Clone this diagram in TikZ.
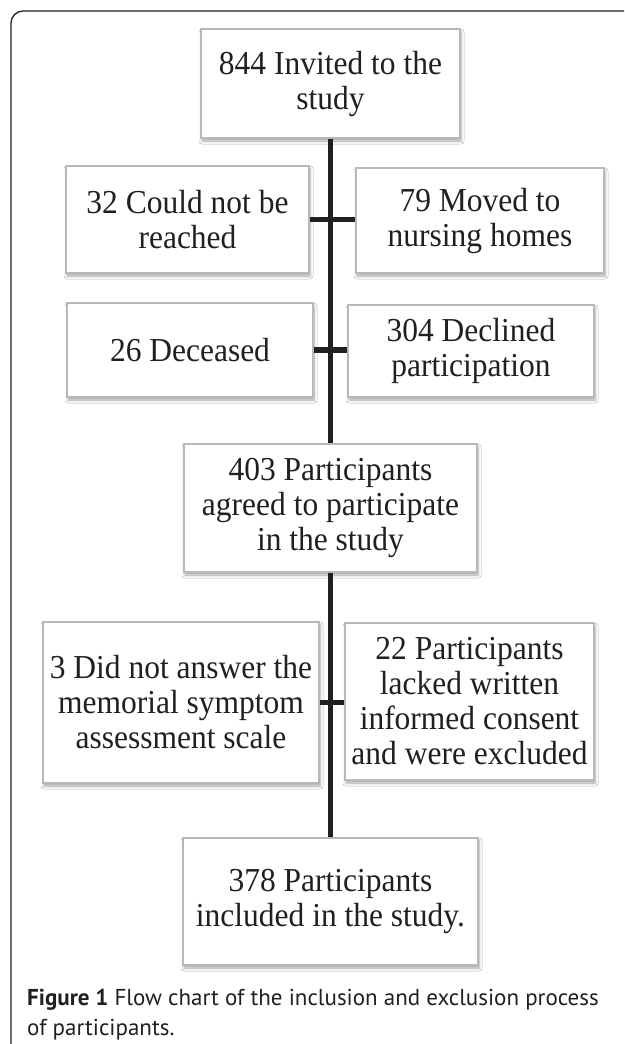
\documentclass[tikz,border=0pt]{standalone}
\usepackage{fontspec}
\setmainfont{Liberation Serif}
\newfontfamily\boxfont[FakeStretch=0.94]{Liberation Serif}
\newfontfamily\capfont{PT Sans}
\usetikzlibrary{shadows.blur}
\definecolor{ink}{HTML}{231F20}
\definecolor{boxline}{HTML}{B8B8B8}
\begin{document}
\begin{tikzpicture}[x=1pt,y=-1pt,
  flowbox/.style={draw=boxline, line width=1.2pt, fill=white, inner sep=0pt,
    align=center, font=\boxfont\fontsize{33.5}{35}\selectfont, text=ink,
    blur shadow={shadow xshift=1pt, shadow yshift=-3pt, shadow blur steps=5,
      shadow opacity=35, shadow blur radius=3pt}},
  link/.style={draw=ink, line width=5.5pt},
  frame/.style={draw=ink, line width=1.3pt, rounded corners=12pt}]
\useasboundingbox (0,0) rectangle (624,1044);
\fill[white] (0,0) rectangle (624,1044);
\draw[frame] (11,1044) -- (11,11) -- (624,11);

\node[flowbox, minimum width=259pt, minimum height=109pt] (b1) at (330.5,83.5) {844 Invited to the\\study};
\node[flowbox, minimum width=243pt, minimum height=107pt] (b32) at (187.5,219.5) {32 Could not be\\reached};
\node[flowbox, minimum width=248pt, minimum height=105pt] (b79) at (480,220.5) {79 Moved to\\nursing homes};
\node[flowbox, minimum width=246pt, minimum height=94pt] (b26) at (190,350) {26 Deceased};
\node[flowbox, minimum width=246pt, minimum height=92pt] (b304) at (471,351) {304 Declined\\participation};
\node[flowbox, minimum width=293pt, minimum height=128pt] (b403) at (330.5,508) {403 Participants\\agreed to participate\\in the study};
\node[flowbox, minimum width=276pt, minimum height=161pt] (b3) at (181,702.5) {3 Did not answer the\\memorial symptom\\assessment scale};
\node[flowbox, minimum width=249pt, minimum height=157pt] (b22) at (469.5,701.5) {22 Participants\\lacked written\\informed consent\\and were excluded};
\node[flowbox, minimum width=295pt, minimum height=127pt] (b378) at (330.5,901.5) {378 Participants\\included in the study.};

\draw[link] (b1.south) -- (b403.north);
\draw[link] (b403.south) -- (b378.north);
\draw[link] (b32.east) -- (b32.east -| b79.west);
\draw[link] (b26.east) -- (b26.east -| b304.west);
\draw[link] (b3.east) -- (b3.east -| b22.west);

\node[anchor=north west, inner sep=0pt, align=left, text=ink,
  font=\capfont\fontsize{23}{30}\selectfont] (cap) at (27,989)
  {\textbf{Figure 1} Flow chart of the inclusion and exclusion process\\of participants.};
\end{tikzpicture}
\end{document}
